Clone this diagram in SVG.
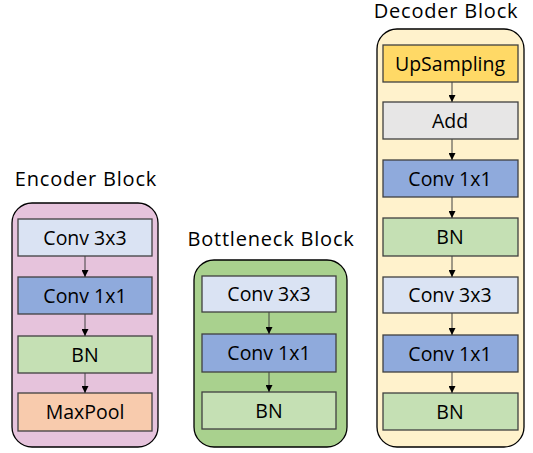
<svg xmlns="http://www.w3.org/2000/svg" width="533" height="453" viewBox="0 0 533 453">
  <defs>
    <marker id="arrow" viewBox="0 0 10 10" refX="10" refY="5" markerWidth="7" markerHeight="7" markerUnits="userSpaceOnUse" orient="auto">
      <path d="M0,0 L10,5 L0,10 z" fill="#000"/>
    </marker>
  </defs>
  <style>
    .frame { stroke: #000; stroke-width: 1.3; }
    .box { stroke: #404040; stroke-width: 1.3; }
    .title { font-family: "Open Sans", "Liberation Sans", sans-serif; font-size: 20px; letter-spacing: 0.8px; fill: #000; text-anchor: middle; }
    .label { font-family: "Open Sans", "Liberation Sans", sans-serif; font-size: 19.5px; fill: #000; text-anchor: middle; dominant-baseline: central; }
    .link { stroke: #404040; stroke-width: 1; fill: none; marker-end: url(#arrow); }
    .c33 { fill: #DAE3F3; }
    .c11 { fill: #8FAADC; }
    .bn { fill: #C5E0B4; }
    .pool { fill: #F8CBAD; }
    .up { fill: #FFD966; }
    .add { fill: #E7E6E6; }
  </style>

  <!-- Encoder -->
  <g id="encoder">
    <text class="title" x="86" y="186">Encoder Block</text>
    <rect class="frame" x="12" y="203" width="146" height="244" rx="20" fill="#E6C3DC"/>
  </g>
  <g id="enc-conv3"><rect class="box c33" x="18" y="219" width="134" height="37"/><text class="label" x="85" y="237">Conv 3x3</text></g>
  <g id="enc-conv1"><rect class="box c11" x="18" y="277" width="134" height="37"/><text class="label" x="85" y="295">Conv 1x1</text></g>
  <g id="enc-bn"><rect class="box bn" x="18" y="336" width="134" height="37"/><text class="label" x="85" y="354">BN</text></g>
  <g id="enc-pool"><rect class="box pool" x="18" y="393" width="134" height="38"/><text class="label" x="85" y="411">MaxPool</text></g>

  <!-- Bottleneck -->
  <g id="bottleneck">
    <text class="title" x="271" y="246">Bottleneck Block</text>
    <rect class="frame" x="194" y="260" width="153" height="187" rx="20" fill="#A9D18E"/>
  </g>
  <g id="bot-conv3"><rect class="box c33" x="202" y="276" width="134" height="36"/><text class="label" x="269" y="293">Conv 3x3</text></g>
  <g id="bot-conv1"><rect class="box c11" x="202" y="334" width="134" height="38"/><text class="label" x="269" y="352">Conv 1x1</text></g>
  <g id="bot-bn"><rect class="box bn" x="202" y="392" width="134" height="37"/><text class="label" x="269" y="410">BN</text></g>

  <!-- Decoder -->
  <g id="decoder">
    <text class="title" x="446" y="18">Decoder Block</text>
    <rect class="frame" x="377" y="29" width="147" height="418" rx="20" fill="#FFF2CC"/>
  </g>
  <g id="dec-up"><rect class="box up" x="383" y="45" width="135" height="37"/><text class="label" x="450" y="63">UpSampling</text></g>
  <g id="dec-add"><rect class="box add" x="383" y="102" width="135" height="37"/><text class="label" x="450" y="120">Add</text></g>
  <g id="dec-conv1a"><rect class="box c11" x="383" y="160" width="135" height="37"/><text class="label" x="450" y="178">Conv 1x1</text></g>
  <g id="dec-bn1"><rect class="box bn" x="383" y="218" width="135" height="38"/><text class="label" x="450" y="236">BN</text></g>
  <g id="dec-conv3"><rect class="box c33" x="383" y="277" width="135" height="36"/><text class="label" x="450" y="294">Conv 3x3</text></g>
  <g id="dec-conv1b"><rect class="box c11" x="383" y="335" width="135" height="37"/><text class="label" x="450" y="353">Conv 1x1</text></g>
  <g id="dec-bn2"><rect class="box bn" x="383" y="393" width="135" height="37"/><text class="label" x="450" y="411">BN</text></g>

  <!-- Connectors -->
  <g id="connectors">
    <line class="link" x1="85" y1="256" x2="85" y2="277"/>
    <line class="link" x1="85" y1="314" x2="85" y2="336"/>
    <line class="link" x1="85" y1="373" x2="85" y2="393"/>
    <line class="link" x1="269" y1="312" x2="269" y2="334"/>
    <line class="link" x1="269" y1="372" x2="269" y2="392"/>
    <line class="link" x1="452" y1="82" x2="452" y2="102"/>
    <line class="link" x1="452" y1="139" x2="452" y2="160"/>
    <line class="link" x1="452" y1="197" x2="452" y2="218"/>
    <line class="link" x1="452" y1="256" x2="452" y2="277"/>
    <line class="link" x1="452" y1="313" x2="452" y2="335"/>
    <line class="link" x1="452" y1="372" x2="452" y2="393"/>
  </g>
</svg>
